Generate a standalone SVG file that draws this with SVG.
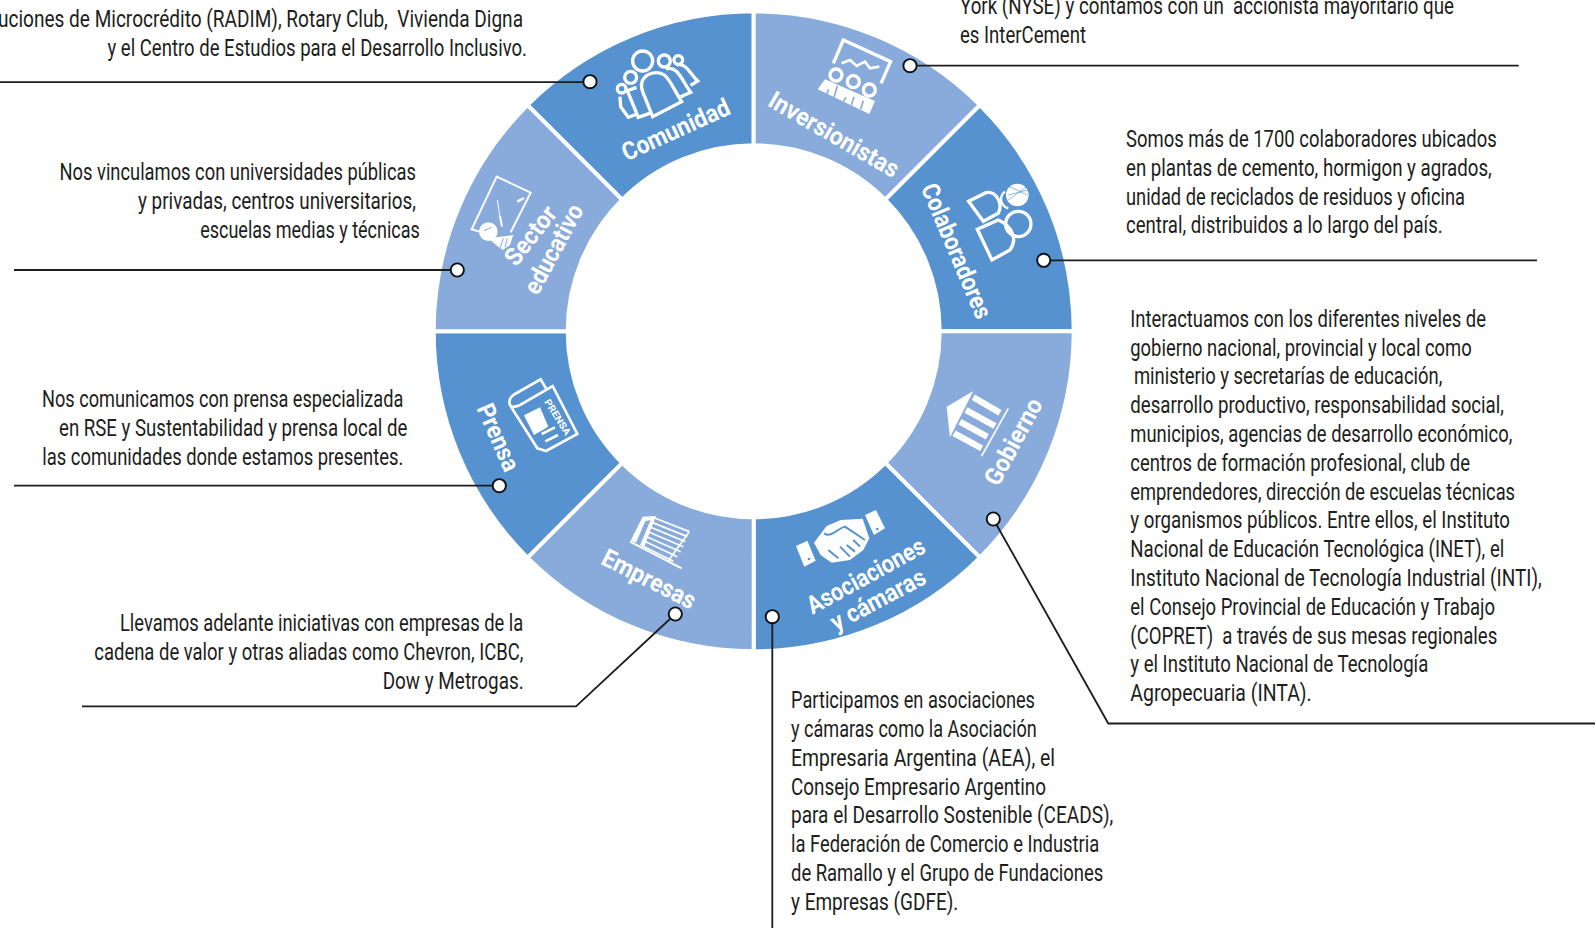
<svg xmlns="http://www.w3.org/2000/svg" width="1596" height="928" viewBox="0 0 1596 928">
<style>
.dk{fill:#5592cf;stroke:#fff;stroke-width:4}
.lt{fill:#88abdb;stroke:#fff;stroke-width:4}
.d{font-family:Roboto,"Liberation Sans",sans-serif;font-size:23.5px;fill:#1d1d1b}
.l{font-family:Roboto,"Liberation Sans",sans-serif;font-size:25px;font-weight:700;fill:#fff;text-anchor:middle}
.o{fill:none;stroke:#fff;stroke-width:10;stroke-linejoin:miter}
.w{fill:#fff;stroke:none}
.c{fill:none;stroke:#1d1d1b;stroke-width:1.8}
.p{fill:#fff;stroke:#111;stroke-width:1.9}
</style>
<rect width="1596" height="928" fill="#fff"/>

<g id="comunidad">
<path class="dk" d="M527.43 105.03A320 320 0 0 1 753.7 11.3V145.3A186 186 0 0 0 622.18 199.78Z"/>
<g transform="translate(420 0) scale(.3333)">
<circle class="o" cx="668" cy="183" r="30"/><circle class="o" cx="733" cy="183" r="18"/><circle class="o" cx="775" cy="180" r="13"/><circle class="o" cx="632" cy="232" r="18"/><circle class="o" cx="605" cy="266" r="13"/>
<path class="o" d="M698 350L668 275C650 228 705 205 733 225C750 238 758 262 785 305Z"/>
<path class="o" d="M738 207C772 195 785 240 812 277L782 290M770 195C800 188 810 222 833 243L812 256"/>
<path class="o" d="M650 262L622 272L655 352L695 338M600 290L602 320L625 352L652 342"/>
</g>
<text class="l" transform="translate(675.7 129.7) rotate(-24.5)" y="8.5" textLength="116" lengthAdjust="spacingAndGlyphs">Comunidad</text>
<text class="d" x="-2" y="26.7" textLength="525" lengthAdjust="spacingAndGlyphs" xml:space="preserve">uciones de Microcrédito (RADIM), Rotary Club,  Vivienda Digna</text>
<text class="d" x="107.5" y="56" textLength="419.5" lengthAdjust="spacingAndGlyphs">y el Centro de Estudios para el Desarrollo Inclusivo.</text>
</g>

<g id="inversionistas">
<path class="lt" d="M753.7 11.3A320 320 0 0 1 979.97 105.03L885.22 199.78A186 186 0 0 0 753.7 145.3Z"/>
<g transform="translate(750 0) scale(.3333)">
<path class="o" d="M250 190L280 120L422 185L393 250"/>
<path class="o" style="stroke-width:8" d="M275 190L300 180L320 198L345 185L360 205L388 200"/>
<circle class="o" cx="258" cy="225" r="18"/><circle class="o" cx="310" cy="245" r="18"/><circle class="o" cx="358" cy="270" r="18"/>
<path class="w" d="M203 268L225 238L375 303L358 342Z"/>
<path d="M236 268L230 283M262 258L252 292M288 292L280 305M312 290L304 316M340 302L332 328" fill="none" stroke="#88abdb" stroke-width="5"/>
</g>
<text class="l" transform="translate(834 134.5) rotate(30)" y="8.5" textLength="146" lengthAdjust="spacingAndGlyphs">Inversionistas</text>
<text class="d" x="960" y="14" textLength="494" lengthAdjust="spacingAndGlyphs" xml:space="preserve">York (NYSE) y contamos con un  accionista mayoritario que</text>
<text class="d" x="960" y="43.3" textLength="126" lengthAdjust="spacingAndGlyphs">es InterCement</text>
</g>

<g id="colaboradores">
<path class="dk" d="M979.97 105.03A320 320 0 0 1 1073.7 331.3H939.7A186 186 0 0 0 885.22 199.78Z"/>
<g transform="translate(750 0) scale(.3333)">
<path class="o" d="M656 604L708 578C738 572 760 610 745 640L700 664Z"/>
<path class="o" d="M682 688L745 660C790 680 802 720 780 750L726 780Z"/>
<circle class="o" cx="805" cy="672" r="38"/>
<circle class="w" cx="802" cy="585" r="34"/>
<path d="M778 560L832 585M775 585L835 570M775 600L830 560" fill="none" stroke="#5592cf" stroke-width="2"/>
<path class="o" style="stroke-width:7" d="M765 575C745 590 752 618 775 625"/>
</g>
<text class="l" transform="translate(956.5 251) rotate(67)" y="8.5" textLength="144" lengthAdjust="spacingAndGlyphs">Colaboradores</text>
<text class="d" x="1126" y="146.7" textLength="370.7" lengthAdjust="spacingAndGlyphs">Somos más de 1700 colaboradores ubicados</text>
<text class="d" x="1126" y="176" textLength="365.7" lengthAdjust="spacingAndGlyphs">en plantas de cemento, hormigon y agrados,</text>
<text class="d" x="1126" y="204.5" textLength="339" lengthAdjust="spacingAndGlyphs">unidad de reciclados de residuos y oficina</text>
<text class="d" x="1126" y="233.3" textLength="316.7" lengthAdjust="spacingAndGlyphs">central, distribuidos a lo largo del país.</text>
</g>

<g id="gobierno">
<path class="lt" d="M1073.7 331.3A320 320 0 0 1 979.97 557.57L885.22 462.82A186 186 0 0 0 939.7 331.3Z"/>
<g transform="translate(750 320) scale(.3333)">
<path class="w" d="M590 260L670 213L600 352Z"/>
<path d="M670 232L750 278M648 270L735 318M630 305L712 350M612 340L695 385" fill="none" stroke="#fff" stroke-width="19"/>
<path d="M775 265L695 408" fill="none" stroke="#fff" stroke-width="5"/>
</g>
<text class="l" transform="translate(1013.3 441.7) rotate(-61.6)" y="8.5" textLength="95" lengthAdjust="spacingAndGlyphs">Gobierno</text>
<g transform="translate(1130.3 0) scale(.8 1) translate(-1130.3 0)">
<text class="d" x="1130.3" y="326.7" textLength="444.6" lengthAdjust="spacingAndGlyphs">Interactuamos con los diferentes niveles de</text>
<text class="d" x="1130.3" y="355.7" textLength="426.8" lengthAdjust="spacingAndGlyphs">gobierno nacional, provincial y local como</text>
<text class="d" x="1134.9" y="384.3" textLength="385.4" lengthAdjust="spacingAndGlyphs">ministerio y secretarías de educación,</text>
<text class="d" x="1130.3" y="413" textLength="467.1" lengthAdjust="spacingAndGlyphs">desarrollo productivo, responsabilidad social,</text>
<text class="d" x="1130.3" y="442" textLength="477.5" lengthAdjust="spacingAndGlyphs">municipios, agencias de desarrollo económico,</text>
<text class="d" x="1130.3" y="470.7" textLength="424.6" lengthAdjust="spacingAndGlyphs">centros de formación profesional, club de</text>
<text class="d" x="1130.3" y="499.7" textLength="480.9" lengthAdjust="spacingAndGlyphs">emprendedores, dirección de escuelas técnicas</text>
<text class="d" x="1130.3" y="528.3" textLength="474.6" lengthAdjust="spacingAndGlyphs">y organismos públicos. Entre ellos, el Instituto</text>
<text class="d" x="1130.3" y="557" textLength="467.5" lengthAdjust="spacingAndGlyphs">Nacional de Educación Tecnológica (INET), el</text>
<text class="d" x="1130.3" y="585.7" textLength="514.3" lengthAdjust="spacingAndGlyphs">Instituto Nacional de Tecnología Industrial (INTI),</text>
<text class="d" x="1130.3" y="614.7" textLength="455.9" lengthAdjust="spacingAndGlyphs">el Consejo Provincial de Educación y Trabajo</text>
<text class="d" x="1130.3" y="643.8" textLength="458.8" lengthAdjust="spacingAndGlyphs" xml:space="preserve">(COPRET)  a través de sus mesas regionales</text>
<text class="d" x="1130.3" y="672" textLength="372.5" lengthAdjust="spacingAndGlyphs">y el Instituto Nacional de Tecnología</text>
<text class="d" x="1130.3" y="700.7" textLength="226.8" lengthAdjust="spacingAndGlyphs">Agropecuaria (INTA).</text>
</g>
</g>

<g id="asociaciones">
<path class="dk" d="M979.97 557.57A320 320 0 0 1 753.7 651.3V517.3A186 186 0 0 0 885.22 462.82Z"/>
<g transform="translate(750 320) scale(.3333)">
<path class="w" d="M138 678L172 662L197 722L163 740ZM345 585L378 570L405 625L372 645Z"/>
<circle cx="177" cy="717" r="4" fill="#5592cf"/><circle cx="382" cy="627" r="4" fill="#5592cf"/>
<path class="w" d="M192 668L230 618L272 600L338 596L358 655L340 690L300 720L245 728L212 705Z"/>
<path d="M222 640C245 655 262 625 285 620L345 660M290 675L315 695M270 680L300 710M310 660L330 680M235 690L265 715" fill="none" stroke="#5592cf" stroke-width="6"/>
</g>
<text class="l" transform="translate(865.8 575.8) rotate(-28.8)" y="8.5" textLength="131" lengthAdjust="spacingAndGlyphs">Asociaciones</text>
<text class="l" transform="translate(878 599.5) rotate(-28)" y="8.5" textLength="104" lengthAdjust="spacingAndGlyphs">y cámaras</text>
<text class="d" x="791" y="708" textLength="244" lengthAdjust="spacingAndGlyphs">Participamos en asociaciones</text>
<text class="d" x="791" y="737" textLength="245.7" lengthAdjust="spacingAndGlyphs">y cámaras como la Asociación</text>
<text class="d" x="791" y="766" textLength="264" lengthAdjust="spacingAndGlyphs">Empresaria Argentina (AEA), el</text>
<text class="d" x="791" y="794.7" textLength="255" lengthAdjust="spacingAndGlyphs">Consejo Empresario Argentino</text>
<text class="d" x="791" y="822.7" textLength="322.3" lengthAdjust="spacingAndGlyphs">para el Desarrollo Sostenible (CEADS),</text>
<text class="d" x="791" y="851.7" textLength="308.3" lengthAdjust="spacingAndGlyphs">la Federación de Comercio e Industria</text>
<text class="d" x="791" y="880.8" textLength="312.3" lengthAdjust="spacingAndGlyphs">de Ramallo y el Grupo de Fundaciones</text>
<text class="d" x="791" y="909.8" textLength="167.3" lengthAdjust="spacingAndGlyphs">y Empresas (GDFE).</text>
</g>

<g id="empresas">
<path class="lt" d="M753.7 651.3A320 320 0 0 1 527.43 557.57L622.18 462.82A186 186 0 0 0 753.7 517.3Z"/>
<g transform="translate(420 320) scale(.3333)">
<path d="M630 665L785 745" fill="none" stroke="#fff" stroke-width="6"/>
<path class="w" d="M632 662L668 590L708 588L672 682L660 676L692 600L676 604L648 668Z"/>
<path d="M704 594L808 635M698 608L802 650M692 622L796 665M686 636L790 680M680 650L782 695M674 664L772 710M668 678L760 724M808 635L745 722" fill="none" stroke="#fff" stroke-width="5"/>
</g>
<text class="l" transform="translate(649 579) rotate(27)" y="8.5" textLength="102" lengthAdjust="spacingAndGlyphs">Empresas</text>
<text class="d" x="120" y="631" textLength="403.3" lengthAdjust="spacingAndGlyphs">Llevamos adelante iniciativas con empresas de la</text>
<text class="d" x="94.3" y="660" textLength="429" lengthAdjust="spacingAndGlyphs">cadena de valor y otras aliadas como Chevron, ICBC,</text>
<text class="d" x="382.7" y="689" textLength="141" lengthAdjust="spacingAndGlyphs">Dow y Metrogas.</text>
</g>

<g id="prensa">
<path class="dk" d="M527.43 557.57A320 320 0 0 1 433.7 331.3H567.7A186 186 0 0 0 622.18 462.82Z"/>
<g transform="translate(420 320) scale(.3333)">
<path class="o" style="stroke-width:8" d="M382 212L362 178L285 222C265 235 265 250 274 262L352 385L378 393L472 342L398 198L302 254C290 262 282 258 274 262"/>
<path class="w" d="M312 286L360 262L385 320L342 345Z"/>
<path d="M365 342L405 322M376 364L414 345" fill="none" stroke="#fff" stroke-width="8"/>
<text transform="translate(412 292) rotate(58)" y="9" font-family="Roboto,'Liberation Sans',sans-serif" font-size="29" font-weight="700" fill="#fff" text-anchor="middle" textLength="122" lengthAdjust="spacingAndGlyphs">PRENSA</text>
</g>
<text class="l" transform="translate(498.3 437.3) rotate(66.4)" y="8.5" textLength="71" lengthAdjust="spacingAndGlyphs">Prensa</text>
<text class="d" x="42" y="406.7" textLength="361.3" lengthAdjust="spacingAndGlyphs">Nos comunicamos con prensa especializada</text>
<text class="d" x="59" y="435.7" textLength="348.3" lengthAdjust="spacingAndGlyphs">en RSE y Sustentabilidad y prensa local de</text>
<text class="d" x="42.3" y="464.7" textLength="361" lengthAdjust="spacingAndGlyphs">las comunidades donde estamos presentes.</text>
</g>

<g id="sector-educativo">
<path class="lt" d="M433.7 331.3A320 320 0 0 1 527.43 105.03L622.18 199.78A186 186 0 0 0 567.7 331.3Z"/>
<g transform="translate(420 0) scale(.3333)">
<path class="o" style="stroke-width:6" d="M178 695L155 688L230 530L332 578L272 697"/>
<path d="M292 605L312 594" fill="none" stroke="#fff" stroke-width="7"/>
<path d="M232 600L240 650" fill="none" stroke="#fff" stroke-width="3"/><path d="M240 648L246 680" fill="none" stroke="#fff" stroke-width="6"/>
<circle class="w" cx="205" cy="695" r="28"/>
<path class="w" d="M205 715L280 705L270 735L248 750L228 735Z"/>
<path d="M192 692L215 682M250 715L240 745M262 715L255 742" fill="none" stroke="#88abdb" stroke-width="3"/>
</g>
<text class="l" transform="translate(530.5 235.5) rotate(-52)" y="8.5" textLength="68" lengthAdjust="spacingAndGlyphs">Sector</text>
<text class="l" transform="translate(553.5 249) rotate(-61.7)" y="8.5" textLength="98" lengthAdjust="spacingAndGlyphs">educativo</text>
<text class="d" x="59.5" y="180" textLength="356.5" lengthAdjust="spacingAndGlyphs">Nos vinculamos con universidades públicas</text>
<text class="d" x="138" y="209" textLength="278" lengthAdjust="spacingAndGlyphs">y privadas, centros universitarios,</text>
<text class="d" x="200.2" y="238" textLength="219.6" lengthAdjust="spacingAndGlyphs">escuelas medias y técnicas</text>
</g>

<g id="connectors">
<path class="c" d="M0 82.2H590"/>
<path class="c" d="M1518.7 65.7H910"/>
<path class="c" d="M1537 260.3H1043.7"/>
<path class="c" d="M1595 723.5H1108.3L993.3 519"/>
<path class="c" d="M772.3 928V616.7"/>
<path class="c" d="M82 706.3H576L675.3 614"/>
<path class="c" d="M14 485.7H499.3"/>
<path class="c" d="M14 270H457.3"/>
<circle class="p" cx="590" cy="81.7" r="6.6"/>
<circle class="p" cx="910" cy="65.7" r="6.6"/>
<circle class="p" cx="1043.7" cy="260.3" r="6.6"/>
<circle class="p" cx="993.3" cy="519" r="6.6"/>
<circle class="p" cx="772.3" cy="616.7" r="6.6"/>
<circle class="p" cx="675.3" cy="614" r="6.6"/>
<circle class="p" cx="499.3" cy="485.7" r="6.6"/>
<circle class="p" cx="457.3" cy="270" r="6.6"/>
</g>
</svg>
